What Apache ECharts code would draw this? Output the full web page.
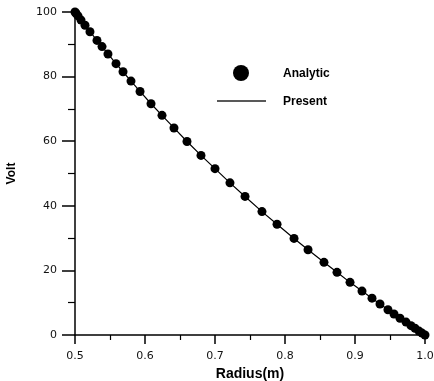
<!DOCTYPE html>
<html>
<head>
<meta charset="utf-8">
<script src="https://cdn.jsdelivr.net/npm/echarts@6/dist/echarts.min.js"></script>
<style>
  html, body { margin: 0; padding: 0; background: #fff; }
  #main { width: 434px; height: 381px; }
</style>
</head>
<body>
<div id="main"></div>
<script>
// radius values (m)
var radius = [0.500, 0.5014, 0.5043, 0.5086, 0.5143, 0.5214, 0.5314, 0.5386, 0.5471, 0.5586,
  0.5686, 0.5800, 0.5929, 0.6086, 0.6243, 0.6414, 0.6600, 0.6800, 0.7000, 0.7214,
  0.7429, 0.7671, 0.7886, 0.8129, 0.8329, 0.8557, 0.8743, 0.8929, 0.9100, 0.9243,
  0.9357, 0.9471, 0.9557, 0.9643, 0.9729, 0.9800, 0.9857, 0.9914, 0.9957, 1.000];
// volt, analytic dots
var analytic = [100, 99.6, 98.8, 97.5, 95.9, 93.9, 91.2, 89.3, 87.0, 84.0,
  81.5, 78.6, 75.4, 71.6, 68.0, 64.1, 59.9, 55.6, 51.5, 47.1,
  42.9, 38.2, 34.3, 29.9, 26.4, 22.5, 19.4, 16.3, 13.6, 11.4,
  9.6, 7.8, 6.5, 5.2, 4.0, 2.9, 2.1, 1.2, 0.6, 0];
// volt, present solution (line)
var present = analytic.slice();

var xTicks = [0.5, 0.6, 0.7, 0.8, 0.9, 1.0];
var yTicks = [0, 20, 40, 60, 80, 100];

var chart = echarts.init(document.getElementById('main'));

var pair = function (ys) {
  return radius.map(function (r, i) { return [r, ys[i]]; });
};

var labelFont = { color: '#111', fontSize: 11, fontFamily: 'DejaVu Sans' };

var option = {
  animation: false,
  backgroundColor: '#fff',
  grid: { left: 75, right: 9, top: 12, bottom: 46, containLabel: false, outerBoundsMode: 'none' },
  xAxis: {
    type: 'value',
    min: xTicks[0],
    max: xTicks[xTicks.length - 1],
    interval: 0.1,
    name: 'Radius(m)',
    nameLocation: 'middle',
    nameGap: 31,
    nameTextStyle: { color: '#000', fontSize: 14, fontWeight: 'bold', fontFamily: 'Liberation Sans' },
    axisLine: { lineStyle: { color: '#000', width: 1.5 } },
    axisTick: { length: 9, lineStyle: { color: '#000', width: 1.5 } },
    minorTick: { show: true, splitNumber: 2, length: 5, lineStyle: { color: '#000', width: 1.2 } },
    splitLine: { show: false },
    axisLabel: Object.assign({ margin: 16, formatter: function (v) { return v.toFixed(1); } }, labelFont)
  },
  yAxis: {
    type: 'value',
    min: yTicks[0],
    max: yTicks[yTicks.length - 1],
    interval: 20,
    name: 'Volt',
    nameLocation: 'middle',
    nameGap: 57,
    nameTextStyle: { color: '#000', fontSize: 12, fontWeight: 'bold', fontFamily: 'Liberation Sans' },
    axisLine: { show: true, lineStyle: { color: '#000', width: 1.5 } },
    axisTick: { length: 13, lineStyle: { color: '#000', width: 1.5 } },
    minorTick: { show: true, splitNumber: 2, length: 7, lineStyle: { color: '#000', width: 1.2 } },
    splitLine: { show: false },
    axisLabel: Object.assign({ margin: 18 }, labelFont)
  },
  graphic: [
    { type: 'circle', shape: { cx: 241, cy: 73, r: 8 }, style: { fill: '#000' } },
    { type: 'line', shape: { x1: 217, y1: 101, x2: 266, y2: 101 }, style: { stroke: '#222', lineWidth: 1.5 } },
    { type: 'text', x: 283, y: 74, style: { text: 'Analytic', fill: '#000', font: 'bold 12px "Liberation Sans"', verticalAlign: 'middle' } },
    { type: 'text', x: 283, y: 102, style: { text: 'Present', fill: '#000', font: 'bold 12px "Liberation Sans"', verticalAlign: 'middle' } }
  ],
  series: [
    {
      name: 'Present',
      type: 'line',
      data: pair(present),
      showSymbol: false,
      lineStyle: { color: '#000', width: 1.2 },
      z: 2
    },
    {
      name: 'Analytic',
      type: 'scatter',
      data: pair(analytic),
      symbol: 'circle',
      symbolSize: 9,
      itemStyle: { color: '#000', opacity: 1 },
      z: 3
    }
  ]
};

chart.setOption(option);
</script>
</body>
</html>
